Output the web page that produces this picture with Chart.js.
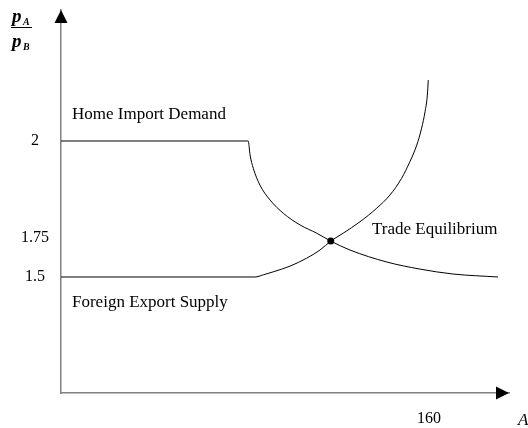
<!DOCTYPE html>
<html>
<head>
<meta charset="utf-8">
<script src="https://cdn.jsdelivr.net/npm/chart.js@4/dist/chart.umd.min.js"></script>
<style>
  html, body { margin: 0; padding: 0; background: #fff; }
  #wrap { width: 528px; height: 428px; position: relative; }
</style>
</head>
<body>
<div id="wrap"><canvas id="c"></canvas></div>
<script>
// Home import demand curve (quantity of A, relative price pA/pB)
const demandX = [0, 81.4, 82.2, 83.6, 86.5, 90.9, 96.7, 104.0, 111.2, 117.3, 125.7, 141.7, 156.1, 170.4, 190.0];
const demandY = [2.0, 2.0, 1.949, 1.900, 1.838, 1.783, 1.734, 1.691, 1.661, 1.632, 1.599, 1.555, 1.529, 1.511, 1.500];
// Foreign export supply curve
const supplyX = [0, 84.3, 88.0, 92.3, 99.6, 106.8, 112.6, 117.3, 122.7, 130.0, 137.3, 143.0, 148.1, 151.7, 154.7, 156.8, 158.3, 159.3, 159.7];
const supplyY = [1.5, 1.5, 1.508, 1.519, 1.540, 1.569, 1.599, 1.632, 1.661, 1.703, 1.753, 1.801, 1.863, 1.924, 1.985, 2.047, 2.108, 2.169, 2.224];
// Trade equilibrium point
const equilibriumX = [117.3];
const equilibriumY = [1.632];
// Tick positions and labels
const yTickValues = [1.5, 1.643, 2];
const yTickLabels = ['1.5', '1.75', '2'];
const xTickValues = [160];
const xTickLabels = ['160'];
// Text labels
const curveLabels = ['Home Import Demand', 'Foreign Export Supply', 'Trade Equilibrium'];

const toPts = (xs, ys) => xs.map((x, i) => ({x: x, y: ys[i]}));

const SERIF = '"Liberation Serif", "Times New Roman", serif';

const decor = {
  id: 'decor',
  afterDraw(chart) {
    const ctx = chart.ctx;
    const a = chart.chartArea;
    ctx.save();
    // arrows
    ctx.fillStyle = '#000';
    ctx.beginPath();
    ctx.moveTo(a.left, a.top);
    ctx.lineTo(a.left - 6.5, a.top + 13);
    ctx.lineTo(a.left + 6.5, a.top + 13);
    ctx.closePath();
    ctx.fill();
    ctx.beginPath();
    ctx.moveTo(a.right, a.bottom);
    ctx.lineTo(a.right - 13, a.bottom - 6.5);
    ctx.lineTo(a.right - 13, a.bottom + 6.5);
    ctx.closePath();
    ctx.fill();

    // text labels
    ctx.fillStyle = '#000';
    ctx.textBaseline = 'middle';
    ctx.textAlign = 'left';
    ctx.font = '17px ' + SERIF;
    ctx.fillText(curveLabels[0], 72, 115);
    ctx.fillText(curveLabels[1], 72, 303);
    ctx.fillText(curveLabels[2], 372, 230);

    // y axis title pA / pB
    ctx.textBaseline = 'alphabetic';
    ctx.font = 'italic bold 19px ' + SERIF;
    ctx.fillText('p', 12, 22);
    ctx.fillText('p', 12, 47);
    ctx.font = 'italic bold 10px ' + SERIF;
    ctx.fillText('A', 23, 25);
    ctx.fillText('B', 23, 50);
    ctx.strokeStyle = '#000';
    ctx.lineWidth = 1;
    ctx.beginPath();
    ctx.moveTo(11, 27.5);
    ctx.lineTo(32, 27.5);
    ctx.stroke();

    // x axis title A (partly cut off at edge)
    ctx.font = 'italic 17px ' + SERIF;
    ctx.textBaseline = 'middle';
    ctx.fillText('A', 518, 421);
    ctx.restore();
  }
};

function noPad(s) {
  s.paddingTop = 0; s.paddingBottom = 0; s.paddingLeft = 0; s.paddingRight = 0;
}

new Chart(document.getElementById('c'), {
  type: 'scatter',
  data: {
    datasets: [
      {
        label: curveLabels[0],
        data: toPts(demandX, demandY),
        showLine: true,
        borderColor: '#000',
        borderWidth: 1,
        pointRadius: 0,
        cubicInterpolationMode: 'monotone',
        fill: false
      },
      {
        label: curveLabels[1],
        data: toPts(supplyX, supplyY),
        showLine: true,
        borderColor: '#000',
        borderWidth: 1,
        pointRadius: 0,
        cubicInterpolationMode: 'monotone',
        fill: false
      },
      {
        label: curveLabels[2],
        data: toPts(equilibriumX, equilibriumY),
        showLine: false,
        pointRadius: 3.5,
        pointBackgroundColor: '#000',
        pointBorderColor: '#000',
        pointBorderWidth: 0
      }
    ]
  },
  options: {
    responsive: true,
    maintainAspectRatio: false,
    animation: false,
    layout: { padding: { top: 10, right: 19, left: 0, bottom: 0 } },
    plugins: {
      legend: { display: false },
      tooltip: { enabled: false }
    },
    scales: {
      x: {
        type: 'linear',
        min: 0,
        max: 194.8,
        afterFit(s) { s.height = 35; noPad(s); },
        afterBuildTicks(s) { s.ticks = xTickValues.map(v => ({value: v})); },
        grid: { display: false, drawTicks: false },
        border: { display: true, color: '#808080', width: 1.5 },
        ticks: {
          padding: 16,
          color: '#000',
          font: { family: SERIF, size: 16 },
          maxRotation: 0,
          autoSkip: false,
          callback(v) { const i = xTickValues.indexOf(v); return i >= 0 ? xTickLabels[i] : ''; }
        }
      },
      y: {
        type: 'linear',
        min: 1.0735,
        max: 2.4816,
        afterFit(s) { s.width = 61; noPad(s); },
        afterBuildTicks(s) { s.ticks = yTickValues.map(v => ({value: v})); },
        grid: { display: false, drawTicks: false },
        border: { display: true, color: '#808080', width: 1.5 },
        ticks: {
          padding: 12,
          crossAlign: 'center',
          color: '#000',
          font: { family: SERIF, size: 16 },
          autoSkip: false,
          callback(v) { const i = yTickValues.indexOf(v); return i >= 0 ? yTickLabels[i] : ''; }
        }
      }
    }
  },
  plugins: [decor]
});
</script>
</body>
</html>
